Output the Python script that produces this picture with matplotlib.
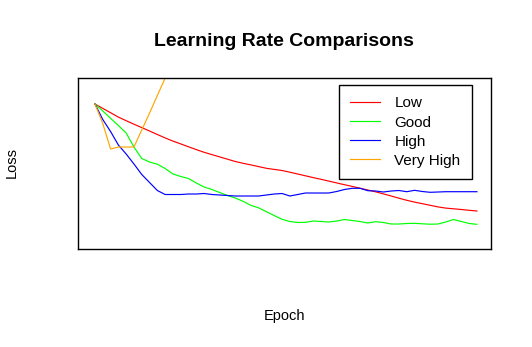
import matplotlib
matplotlib.use("Agg")
import matplotlib.pyplot as plt
import numpy as np

plt.rcParams['font.family'] = ['Liberation Sans', 'DejaVu Sans']

# loss per epoch
epochs = np.arange(1, 51)
low = [1.45, 1.406, 1.363, 1.319, 1.283, 1.248, 1.214, 1.180, 1.145, 1.111,
       1.079, 1.051, 1.022, 0.994, 0.967, 0.944, 0.921, 0.898, 0.875, 0.857,
       0.841, 0.824, 0.807, 0.796, 0.785, 0.768, 0.750, 0.732, 0.714, 0.697,
       0.679, 0.661, 0.643, 0.626, 0.608, 0.590, 0.572, 0.551, 0.530, 0.508,
       0.487, 0.469, 0.453, 0.437, 0.421, 0.409, 0.402, 0.395, 0.387, 0.380]
good = [1.45, 1.38, 1.307, 1.235, 1.16, 1.02, 0.905, 0.87, 0.848, 0.805,
        0.75, 0.725, 0.705, 0.66, 0.62, 0.595, 0.565, 0.535, 0.51, 0.477,
        0.436, 0.411, 0.373, 0.334, 0.297, 0.275, 0.265, 0.267, 0.28, 0.275,
        0.27, 0.28, 0.295, 0.285, 0.275, 0.26, 0.273, 0.265, 0.25, 0.25,
        0.255, 0.257, 0.252, 0.248, 0.25, 0.27, 0.295, 0.275, 0.255, 0.247]
high = [1.45, 1.295, 1.175, 1.04, 0.95, 0.85, 0.745, 0.665, 0.585, 0.545,
        0.545, 0.545, 0.55, 0.55, 0.555, 0.545, 0.54, 0.535, 0.53, 0.53,
        0.53, 0.53, 0.54, 0.55, 0.555, 0.53, 0.545, 0.56, 0.56, 0.56,
        0.56, 0.575, 0.595, 0.607, 0.607, 0.583, 0.58, 0.57, 0.58, 0.585,
        0.573, 0.587, 0.575, 0.567, 0.57, 0.573, 0.573, 0.573, 0.573, 0.573]
very_high = [1.45, 1.255, 1.0, 1.02, 1.02, 1.02, 1.19, 1.36, 1.535, 1.71,
             1.9, 2.1]

fig = plt.figure(figsize=(5.32, 3.47), dpi=100)
ax = fig.add_axes([0.1466, 0.2824, 0.7763, 0.4928])

lw = 0.85
ax.plot(epochs, low, color='#FF0000', lw=lw, label='Low')
ax.plot(epochs, good, color='#00FF00', lw=lw, label='Good')
ax.plot(epochs, high, color='#0000FF', lw=lw, label='High')
ax.plot(epochs[:len(very_high)], very_high, color='#FFA500', lw=lw, label='Very High')

ax.set_xlim(-1.18, 51.8)
ax.set_ylim(0, 1.71)
ax.set_xticks([])
ax.set_yticks([])
for s in ax.spines.values():
    s.set_color('black')
    s.set_linewidth(1.0)

leg = ax.legend(loc='upper right', bbox_to_anchor=(0.954, 0.959), borderaxespad=0,
                fancybox=False, framealpha=1, edgecolor='black', fontsize=11,
                handlelength=1.96, handletextpad=0.92, labelspacing=0.33,
                borderpad=0.75)
leg.get_frame().set_linewidth(1.0)

fig.text(0.534, 0.879, 'Learning Rate Comparisons', ha='center', va='center',
         fontsize=14, fontweight='bold')
fig.text(0.534, 1 - 316 / 347, 'Epoch', ha='center', va='center', fontsize=10.5)
fig.text(12 / 532, 1 - 163 / 347, 'Loss', ha='center', va='center',
         rotation=90, fontsize=10.5)

fig.savefig('out.png', dpi=100)
